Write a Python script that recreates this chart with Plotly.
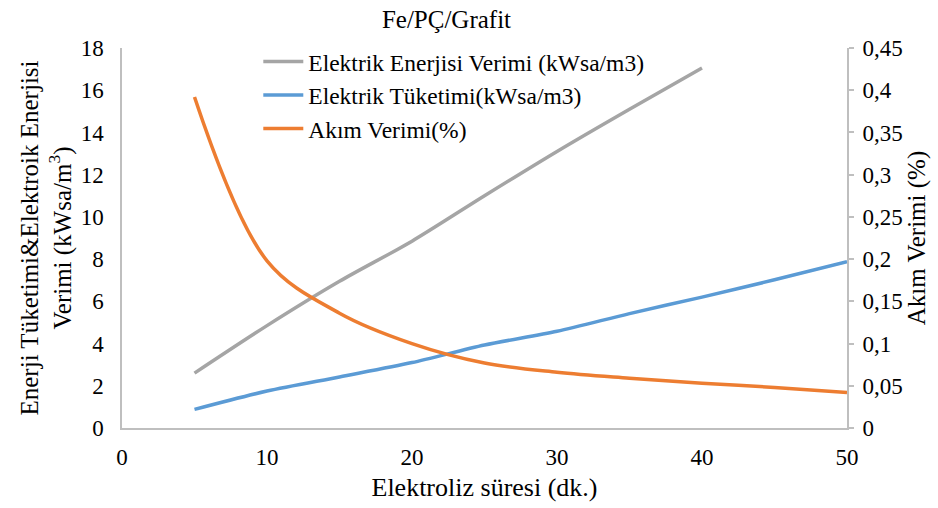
import plotly.graph_objects as go

# Data
time_min = [5, 10, 15, 20, 25, 30, 35, 40, 45, 50]
enerji_verimi = [2.6, 4.85, 6.95, 8.85, 11.0, 13.1, 15.1, 17.05]          # x = 5..40
tuketim = [0.88, 1.75, 2.42, 3.1, 3.93, 4.58, 5.42, 6.2, 7.02, 7.88]
akim_verimi = [0.392, 0.198, 0.136, 0.1, 0.077, 0.066, 0.059, 0.053, 0.048, 0.042]

x_ticks = [0, 10, 20, 30, 40, 50]
left_ticks = list(range(0, 19, 2))
right_ticks = [0, 0.05, 0.1, 0.15, 0.2, 0.25, 0.3, 0.35, 0.4, 0.45]

FONT = "Liberation Serif"
GRAY = "#A5A5A5"
BLUE = "#5B9BD5"
ORANGE = "#ED7D31"
AXIS = "#BFBFBF"

fig = go.Figure()
fig.add_trace(go.Scatter(x=time_min[:len(enerji_verimi)], y=enerji_verimi, mode="lines",
                         name="Elektrik Enerjisi Verimi (kWsa/m3)",
                         line=dict(color=GRAY, width=3.5, shape="spline", smoothing=0.8)))
fig.add_trace(go.Scatter(x=time_min, y=tuketim, mode="lines",
                         name="Elektrik Tüketimi(kWsa/m3)",
                         line=dict(color=BLUE, width=3.5, shape="spline", smoothing=0.8)))
fig.add_trace(go.Scatter(x=time_min, y=akim_verimi, mode="lines", yaxis="y2",
                         name="Akım Verimi(%)",
                         line=dict(color=ORANGE, width=3.5, shape="spline", smoothing=1)))

fig.update_layout(
    width=938, height=508,
    margin=dict(l=122, r=91, t=48, b=80),
    paper_bgcolor="white", plot_bgcolor="white",
    separators=",.",
    font=dict(family=FONT, size=23, color="black"),
    title=dict(text="Fe/PÇ/Grafit", x=0.476, xanchor="center", y=0.963, yanchor="middle",
               font=dict(family=FONT, size=25)),
    showlegend=True,
    legend=dict(x=0.188, y=1.022, xanchor="left", yanchor="top", bgcolor="rgba(0,0,0,0)",
                font=dict(family=FONT, size=23.5), tracegroupgap=0, itemwidth=40),
    xaxis=dict(range=[0, 50], tickvals=x_ticks, showgrid=False, zeroline=False,
               showline=True, linecolor=AXIS, linewidth=1.5, ticks="",
               tickfont=dict(size=23), ticklabelstandoff=8,
               title=dict(text="Elektroliz süresi (dk.)", font=dict(size=26), standoff=8)),
    yaxis=dict(range=[0, 18], tickvals=left_ticks, showgrid=False, zeroline=False,
               showline=True, linecolor=AXIS, linewidth=1.5, ticks="",
               tickfont=dict(size=23), ticklabelstandoff=12,
               title=dict(text="Enerji Tüketimi&Elektroik Enerjisi<br>Verimi (kWsa/m<sup>3</sup>)",
                          font=dict(size=25), standoff=2)),
    yaxis2=dict(range=[0, 0.45], tickvals=right_ticks, overlaying="y", side="right",
                showgrid=False, zeroline=False, showline=True, linecolor=AXIS, linewidth=2,
                ticks="outside", ticklen=5, tickcolor=AXIS, tickwidth=1.5,
                tickfont=dict(size=23), ticklabelstandoff=4,
                title=dict(text="Akım Verimi (%)", font=dict(size=25), standoff=0)),
)

fig.write_html("out.html")
